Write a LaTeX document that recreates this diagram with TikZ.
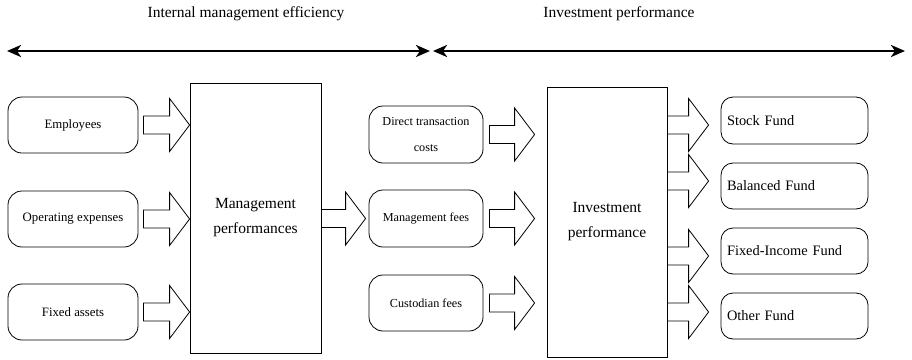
\documentclass[tikz,border=0pt]{standalone}
\usepackage{fontspec}
\setmainfont{Liberation Serif}
\usetikzlibrary{positioning,calc,arrows.meta}

\tikzset{
    inbox/.style={rectangle,rounded corners=14pt,draw,line width=0.8pt,minimum width=130pt,minimum height=56pt,font=\fontsize{12.8}{14}\selectfont},
    costbox/.style={rectangle,rounded corners=14pt,draw,line width=0.8pt,minimum width=114pt,minimum height=57pt,align=center,font=\fontsize{12.2}{26}\selectfont},
    bigbox/.style={rectangle,draw,line width=0.8pt,minimum height=270pt,align=center,font=\fontsize{15.5}{25}\selectfont},
    fundbox/.style={rectangle,rounded corners=12pt,draw,line width=0.8pt,text width=135pt,inner xsep=6pt,minimum height=46pt,align=left,font=\fontsize{14.4}{16}\selectfont},
    span/.style={line width=2.6pt,{Stealth[length=14pt,width=12pt,inset=4pt]}-{Stealth[length=14pt,width=12pt,inset=4pt]}},
}

% block arrow: start point, tip point (tip uses the start's height)
\newcommand{\fatarrow}[2]{%
    \draw[line width=0.8pt] let \p1=#1, \p2=#2 in
        (\x1,\y1+9pt) -- (\x2-20pt,\y1+9pt) -- (\x2-20pt,\y1+26.5pt) -- (\x2,\y1)
        -- (\x2-20pt,\y1-26.5pt) -- (\x2-20pt,\y1-9pt) -- (\x1,\y1-9pt) -- cycle;}

\begin{document}
\begin{tikzpicture}[x=1pt,y=-1pt]
    \useasboundingbox (0,0) rectangle (912,359);

    % headings
    \node[font=\fontsize{15.5}{18}\selectfont] (imetitle) at (246,14) {Internal management efficiency};
    \node[font=\fontsize{15.5}{18}\selectfont] (iptitle) at (619,14) {Investment performance};
    \coordinate (imeL) at (7,51);
    \coordinate (imeR) at (430,51);
    \coordinate (ipL) at (433,51);
    \coordinate (ipR) at (905,51);
    \draw[span] (imeL) -- (imeR);
    \draw[span] (ipL) -- (ipR);

    % inputs
    \node[inbox] (emp) at (73,125) {Employees};
    \node[inbox] (opex) at (73,219) {Operating expenses};
    \node[inbox] (fixed) at (73,312) {Fixed assets};
    \node[bigbox,minimum width=131pt] (mgmt) at (255.5,218) {Management\\performances};

    % costs
    \node[costbox] (direct) at (426,134.5) {Direct transaction\\costs};
    \node[costbox] (fees) at (426,218.5) {Management fees};
    \node[costbox,minimum height=56pt] (cust) at (426,303) {Custodian fees};
    \node[bigbox,minimum width=120pt] (inv) at (607,222) {Investment\\performance};

    % funds
    \node[fundbox,minimum height=47pt] (stock) at (794.5,120.5) {Stock Fund};
    \node[fundbox] (bal) at (794.5,186) {Balanced Fund};
    \node[fundbox] (fixinc) at (794.5,251) {Fixed-Income Fund};
    \node[fundbox] (other) at (794.5,316) {Other Fund};

    \fatarrow{($(emp.east)+(5,0)$)}{(mgmt.west)}
    \fatarrow{($(opex.east)+(5,0)$)}{(mgmt.west)}
    \fatarrow{($(fixed.east)+(5,0)$)}{(mgmt.west)}
    \fatarrow{(mgmt.east |- fees.west)}{($(fees.west)+(-3,0)$)}
    \fatarrow{($(direct.east)+(6,0)$)}{($(inv.west)+(-12,0)$)}
    \fatarrow{($(fees.east)+(6,0)$)}{($(inv.west)+(-12,0)$)}
    \fatarrow{($(cust.east)+(6,0)$)}{($(inv.west)+(-12,0)$)}
    \fatarrow{($(inv.east |- stock.west)+(0,4.5)$)}{($(stock.west)+(-12,0)$)}
    \fatarrow{($(inv.east |- bal.west)+(0,-5)$)}{($(bal.west)+(-12,0)$)}
    \fatarrow{($(inv.east |- fixinc.west)+(0,5)$)}{($(fixinc.west)+(-12,0)$)}
    \fatarrow{($(inv.east |- other.west)+(0,-4)$)}{($(other.west)+(-12,0)$)}
\end{tikzpicture}
\end{document}
